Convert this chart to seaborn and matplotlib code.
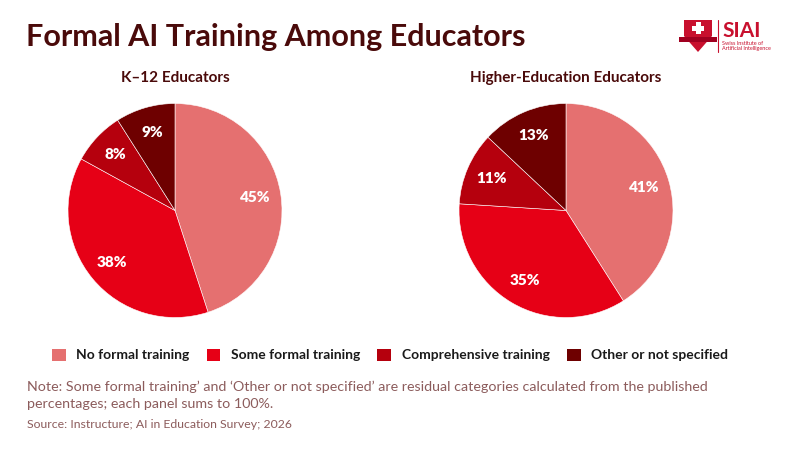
import matplotlib
matplotlib.use("Agg")
import matplotlib.pyplot as plt
import matplotlib.patches as mpatches
import seaborn as sns

# data
categories = ["No formal training", "Some formal training",
              "Comprehensive training", "Other or not specified"]
k12_values = [45, 38, 8, 9]
higher_values = [41, 35, 11, 13]
panel_titles = ["K\u201312 Educators", "Higher-Education Educators"]

sns.set_theme(style="white")
plt.rcParams["font.family"] = ["Lato", "DejaVu Sans"]

colors = sns.color_palette(["#E57070", "#E60016", "#B5000D", "#6E0000"])
title_color = "#4A0A0A"
note_color = "#8C5C5C"

fig = plt.figure(figsize=(8, 4.5), dpi=100)
fig.patch.set_facecolor("white")

fig.text(26 / 800, 1 - 37 / 450, "Formal AI Training Among Educators",
         fontsize=22, fontweight="bold", color=title_color, va="center", ha="left")

r_w = 214 / 800
r_h = 214 / 450
centers = [175 / 800, 566 / 800]
for cx, vals, ttl in zip(centers, [k12_values, higher_values], panel_titles):
    ax = fig.add_axes([cx - r_w / 2, 1 - 210.5 / 450 - r_h / 2, r_w, r_h])
    wedges, texts, autotexts = ax.pie(
        vals, colors=colors, startangle=90, counterclock=False,
        autopct=lambda p: f"{p:.0f}%", pctdistance=0.76,
        wedgeprops=dict(edgecolor="white", linewidth=0.4),
        textprops=dict(color="white", fontsize=11, fontweight="heavy"))
    ax.set_aspect("equal")
    ax.set_xlim(-1, 1)
    ax.set_ylim(-1, 1)
    ax.axis("off")
    fig.text(cx, 1 - 78 / 450, ttl, ha="center", va="center",
             fontsize=11, fontweight="bold", color=title_color)

handles = [mpatches.Patch(facecolor=c, edgecolor="none", label=l)
           for c, l in zip(colors, categories)]
leg = fig.legend(handles=handles, loc="center", bbox_to_anchor=(0.4875, 1 - 355 / 450),
                 ncol=4, frameon=False, fontsize=10, handlelength=1.0, handleheight=1.0,
                 columnspacing=1.25, handletextpad=0.75)
for t in leg.get_texts():
    t.set_fontweight("bold")
    t.set_color("#1A1A1A")

fig.text(27 / 800, 1 - 387 / 450,
         "Note: Some formal training\u2019 and \u2018Other or not specified\u2019 are residual categories calculated from the published",
         fontsize=10.3, color=note_color, va="center", ha="left")
fig.text(27 / 800, 1 - 404 / 450, "percentages; each panel sums to 100%.",
         fontsize=10.3, color=note_color, va="center", ha="left")
fig.text(27 / 800, 1 - 424 / 450, "Source: Instructure; AI in Education Survey; 2026",
         fontsize=8.8, color=note_color, va="center", ha="left")

# logo
lax = fig.add_axes([678 / 800, 1 - 54 / 450, 40 / 800, 36 / 450])
lax.set_xlim(0, 40)
lax.set_ylim(0, 36)
lax.axis("off")
shield = mpatches.Polygon([(6, 34), (34, 34), (34, 18), (20, 2), (6, 18)],
                          closed=True, facecolor="#C8102E", edgecolor="none")
lax.add_patch(shield)
lax.add_patch(mpatches.Rectangle((1, 12), 38, 5, facecolor="#A00020", edgecolor="none"))
lax.add_patch(mpatches.Rectangle((17.5, 20), 5, 12, facecolor="white", edgecolor="none"))
lax.add_patch(mpatches.Rectangle((14, 23.5), 12, 5, facecolor="white", edgecolor="none"))
fig.add_artist(plt.Line2D([718 / 800, 718 / 800], [1 - 20 / 450, 1 - 52 / 450],
                          color="#C8102E", linewidth=0.8))
fig.text(722 / 800, 1 - 31 / 450, "SIAI", fontsize=15, fontweight="bold",
         color="#C8102E", va="center", ha="left")
fig.text(722 / 800, 1 - 46 / 450, "Swiss Institute of\nArtificial Intelligence",
         fontsize=4, color="#C8102E", va="center", ha="left", linespacing=1.0)

fig.savefig("out.png", dpi=100, facecolor="white")
